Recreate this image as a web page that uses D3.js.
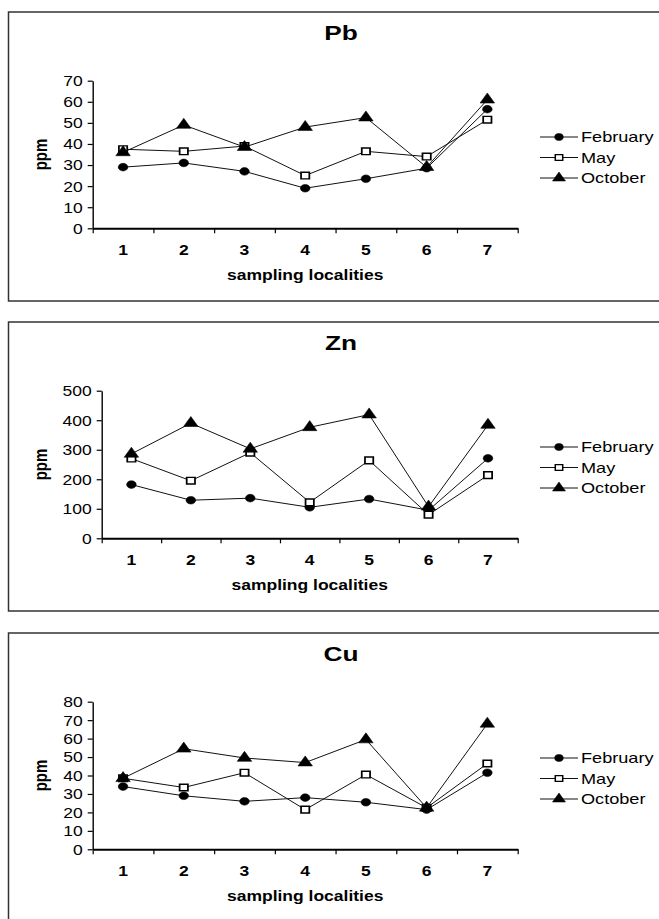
<!DOCTYPE html>
<html>
<head>
<meta charset="utf-8">
<script src="https://cdn.jsdelivr.net/npm/d3@7"></script>
<style>
  html, body { margin: 0; padding: 0; background: #fff; }
  svg { display: block; }
  text { font-family: "Liberation Sans", Arial, Helvetica, sans-serif; fill: #000; }
</style>
</head>
<body>
<script>
// ---------- data ----------
const categories = ["1", "2", "3", "4", "5", "6", "7"];
const seriesNames = ["February", "May", "October"];
const xAxisTitle = "sampling localities";
const yAxisTitle = "ppm";

const pbTitle = "Pb";
const pbFebruary = [29, 31, 27, 19, 23.5, 28.5, 56.5];
const pbMay      = [37.5, 36.5, 39, 25, 36.5, 34, 51.5];
const pbOctober  = [36, 49, 38.5, 48, 52.5, 29, 61];
const pbTicks    = [0, 10, 20, 30, 40, 50, 60, 70];

const znTitle = "Zn";
const znFebruary = [182, 129, 136, 105, 133, 95, 271];
const znMay      = [270, 195, 290, 122, 264, 80, 214];
const znOctober  = [286, 390, 303, 376, 419, 107, 384];
const znTicks    = [0, 100, 200, 300, 400, 500];

const cuTitle = "Cu";
const cuFebruary = [34, 29, 26, 28, 25.5, 21.5, 41.5];
const cuMay      = [38.5, 33.5, 41.5, 21.5, 40.5, 22.5, 46.5];
const cuOctober  = [38.5, 54.5, 49.5, 47, 59.5, 22.5, 68];
const cuTicks    = [0, 10, 20, 30, 40, 50, 60, 70, 80];

// ---------- layout ----------
const SX = 1.25;              // horizontal stretch of the original picture
const W = 659, H = 919;
const panels = [
  { dy: 0,   x0: 92.7,  title: pbTitle, ticks: pbTicks, series: [pbFebruary, pbMay, pbOctober] },
  { dy: 310, x0: 101.7, title: znTitle, ticks: znTicks, series: [znFebruary, znMay, znOctober] },
  { dy: 621, x0: 92.7,  title: cuTitle, ticks: cuTicks, series: [cuFebruary, cuMay, cuOctober] }
];
const xRight = 517.7, yTop = 80.7, yBottom = 228.3;
const markerTypes = [d3.symbolCircle, d3.symbolSquare, d3.symbolTriangle];
const markerSizes = [46, 44, 58];
const markerFill = ["#000", "#fff", "#000"];

const svg = d3.select("body").append("svg").attr("width", W).attr("height", H);

function drawPanel(p) {
  const g = svg.append("g").attr("transform", `translate(0,${p.dy})`);

  g.append("rect")
    .attr("x", 8.5).attr("y", 12).attr("width", 700).attr("height", 289)
    .attr("fill", "none").attr("stroke", "#333").attr("stroke-width", 1.5);

  g.append("text")
    .attr("transform", `translate(341,40) scale(${SX},1)`)
    .attr("text-anchor", "middle")
    .style("font-weight", "bold").style("font-size", "21px")
    .text(p.title);

  const y = d3.scaleLinear().domain([0, d3.max(p.ticks)]).range([yBottom, yTop]);
  const xb = d3.scaleBand().domain(categories).range([p.x0, xRight]);
  const xl = d3.scaleLinear().domain([0, categories.length]).range([p.x0, xRight]);
  const cx = d => xb(d) + xb.bandwidth() / 2;

  // y axis
  const ya = g.append("g").attr("transform", `translate(${p.x0},0)`)
    .call(d3.axisLeft(y).tickValues(p.ticks).tickSize(5).tickSizeOuter(0));
  ya.select(".domain").attr("stroke", "#000").attr("stroke-width", 1.4);
  ya.selectAll(".tick line").attr("stroke", "#000").attr("stroke-width", 1.2);
  ya.selectAll(".tick text")
    .attr("x", -10 / SX).attr("dy", "0.35em")
    .attr("transform", `scale(${SX},1)`)
    .style("font-size", "14px").attr("fill", "#000");
  ya.attr("font-family", null).attr("font-size", null);

  // x axis (ticks at category boundaries)
  const xa = g.append("g").attr("transform", `translate(0,${yBottom})`)
    .call(d3.axisBottom(xl).tickValues(d3.range(categories.length + 1)).tickSize(5).tickSizeOuter(0).tickFormat(""));
  xa.select(".domain").attr("stroke", "#000").attr("stroke-width", 2);
  xa.selectAll(".tick line").attr("stroke", "#000").attr("stroke-width", 1.2);

  // category labels
  g.selectAll("text.cat").data(categories).join("text")
    .attr("class", "cat")
    .attr("transform", d => `translate(${cx(d)},255) scale(${SX},1)`)
    .attr("text-anchor", "middle")
    .style("font-weight", "bold").style("font-size", "14px")
    .text(d => d);

  // axis titles
  g.append("text")
    .attr("transform", `translate(${(p.x0 + xRight) / 2},280) scale(${SX},1)`)
    .attr("text-anchor", "middle")
    .style("font-weight", "bold").style("font-size", "14px")
    .text(xAxisTitle);
  g.append("text")
    .attr("transform", `translate(47,${(yTop + yBottom) / 2}) scale(${SX},1) rotate(-90)`)
    .attr("text-anchor", "middle")
    .style("font-weight", "bold").style("font-size", "15px")
    .text(yAxisTitle);

  // series
  const line = d3.line().x((v, i) => cx(categories[i])).y(v => y(v));
  p.series.forEach((vals, si) => {
    g.append("path").datum(vals)
      .attr("d", line).attr("fill", "none")
      .attr("stroke", "#111").attr("stroke-width", 1);
    g.selectAll(`path.m${si}`).data(vals).join("path")
      .attr("class", `m${si}`)
      .attr("d", d3.symbol().type(markerTypes[si]).size(markerSizes[si]))
      .attr("transform", (v, i) => `translate(${cx(categories[i])},${y(v)}) scale(${SX},1)`)
      .attr("fill", markerFill[si]).attr("stroke", "#000").attr("stroke-width", si === 1 ? 1.4 : 0.5);
  });

  // legend
  const legY = [137, 157.5, 178];
  seriesNames.forEach((name, si) => {
    const lg = g.append("g").attr("transform", `translate(0,${legY[si]})`);
    lg.append("line").attr("x1", 540).attr("x2", 578).attr("y1", 0).attr("y2", 0)
      .attr("stroke", "#111").attr("stroke-width", 1);
    lg.append("path")
      .attr("d", d3.symbol().type(markerTypes[si]).size(markerSizes[si] * 0.8)())
      .attr("transform", `translate(559,0) scale(${SX},1)`)
      .attr("fill", markerFill[si]).attr("stroke", "#000").attr("stroke-width", si === 1 ? 1.2 : 0.5);
    lg.append("text")
      .attr("transform", `translate(581,0) scale(${SX},1)`)
      .attr("dy", "0.35em")
      .style("font-size", "14.5px")
      .text(name);
  });
}

panels.forEach(drawPanel);
</script>
</body>
</html>
